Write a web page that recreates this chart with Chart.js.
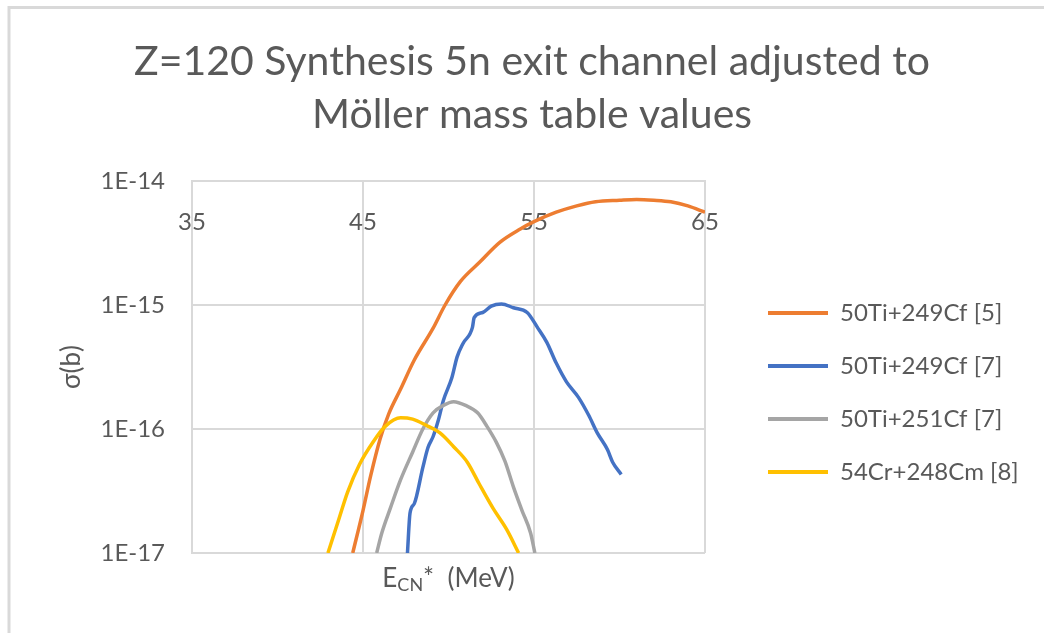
<!DOCTYPE html>
<html>
<head>
<meta charset="utf-8">
<title>Z=120 Synthesis 5n exit channel</title>
<script src="https://cdn.jsdelivr.net/npm/chart.js@4.4.1/dist/chart.umd.min.js"></script>
<style>
  html, body { margin: 0; padding: 0; background: #fff; }
</style>
</head>
<body>
<canvas id="chart" width="1044" height="633"></canvas>
<script>
// values (E in MeV, sigma in barn)
const seriesLabels = ['50Ti+249Cf [5]', '50Ti+249Cf [7]', '50Ti+251Cf [7]', '54Cr+248Cm [8]'];
const seriesColors = ['#ED7D31', '#4472C4', '#A5A5A5', '#FFC000'];

const ti249Cf5E = [44.4, 45.0, 45.45, 46.0, 46.5, 47.2, 48.0, 49.1, 49.8, 50.7, 51.8, 53.0, 54.2,
                   55.0, 56.3, 57.5, 58.6, 60.0, 61.0, 62.0, 63.0, 64.0, 65.0];
const ti249Cf5Sigma = [1.0e-17, 2.2e-17, 4.2e-17, 8.3e-17, 1.32e-16, 2.1e-16, 3.6e-16, 6.5e-16, 1.0e-15, 1.55e-15, 2.2e-15, 3.2e-15, 4.1e-15,
                       4.7e-15, 5.6e-15, 6.3e-15, 6.8e-15, 7.0e-15, 7.1e-15, 7.0e-15, 6.8e-15, 6.3e-15, 5.6e-15];

const ti249Cf7E = [47.6, 47.75, 48.0, 48.5, 48.8, 49.1, 49.4, 49.7, 50.2, 50.5, 50.85, 51.4, 51.5, 52.0,
                   52.5, 53.1, 53.8, 54.6, 55.2, 55.75, 56.3, 56.9, 57.6, 58.2, 58.7, 59.3, 59.6, 60.1];
const ti249Cf7Sigma = [1.0e-17, 2.1e-17, 2.5e-17, 4.9e-17, 7.1e-17, 8.7e-17, 1.17e-16, 1.7e-16, 2.6e-16, 3.8e-16, 4.9e-16, 6.6e-16, 7.9e-16, 8.7e-16,
                       9.8e-16, 1.02e-15, 9.5e-16, 8.7e-16, 6.6e-16, 5.0e-16, 3.4e-16, 2.4e-16, 1.8e-16, 1.29e-16, 9.3e-17, 6.8e-17, 5.4e-17, 4.3e-17];

const ti251Cf7E = [45.8, 46.1, 46.6, 47.2, 47.9, 48.5, 49.1, 49.7, 50.3, 51.0, 51.7, 52.25, 52.8, 53.3, 53.8, 54.3, 54.8, 55.05];
const ti251Cf7Sigma = [1.0e-17, 1.45e-17, 2.3e-17, 3.9e-17, 6.5e-17, 1.0e-16, 1.35e-16, 1.55e-16, 1.66e-16, 1.55e-16, 1.35e-16, 1.05e-16,
                       7.8e-17, 5.5e-17, 3.4e-17, 2.2e-17, 1.45e-17, 1.0e-17];

const cr248Cm8E = [42.95, 43.6, 44.1, 44.8, 45.6, 46.3, 47.2, 47.9, 48.7, 49.5, 50.3, 51.1, 51.8, 52.6, 53.4, 54.1];
const cr248Cm8Sigma = [1.0e-17, 1.9e-17, 3.1e-17, 5.2e-17, 7.9e-17, 1.05e-16, 1.23e-16, 1.2e-16, 1.07e-16, 9.3e-17, 7.2e-17,
                       5.4e-17, 3.6e-17, 2.3e-17, 1.55e-17, 1.0e-17];

const xTicks = [35, 45, 55, 65];
const yTicks = [1e-17, 1e-16, 1e-15, 1e-14];

const textColor = '#595959';
const gridColor = '#D9D9D9';
const fontFamily = 'Lato, "Open Sans", sans-serif';

const toPoints = (xs, ys) => xs.map((x, i) => ({x: x, y: ys[i]}));
const seriesX = [ti249Cf5E, ti249Cf7E, ti251Cf7E, cr248Cm8E];
const seriesY = [ti249Cf5Sigma, ti249Cf7Sigma, ti251Cf7Sigma, cr248Cm8Sigma];

const datasets = seriesLabels.map((label, i) => ({
    label: label,
    data: toPoints(seriesX[i], seriesY[i]),
    borderColor: seriesColors[i],
    backgroundColor: seriesColors[i],
    borderWidth: 3.5,
    pointRadius: 0,
    pointHoverRadius: 0,
    pointStyle: 'line',
    pointBorderColor: seriesColors[i],
    pointBorderWidth: 4,
    cubicInterpolationMode: 'monotone',
    showLine: true,
    order: seriesLabels.length - i   // later series drawn on top, like Excel
}));

// white background + frame edge of the original chart box
const frame = {
    id: 'frame',
    beforeDraw(chart) {
        const ctx = chart.ctx;
        ctx.save();
        ctx.fillStyle = '#fff';
        ctx.fillRect(0, 0, chart.width, chart.height);
        ctx.strokeStyle = gridColor;
        ctx.lineWidth = 3;
        ctx.beginPath();
        ctx.moveTo(9, chart.height);
        ctx.lineTo(9, 7.5);
        ctx.lineTo(chart.width, 7.5);
        ctx.stroke();
        ctx.restore();
    }
};

// legend box wider than chart.js allows by default for right legends
const legendWidth = {
    id: 'legendWidth',
    afterInit(chart) {
        const legend = chart.legend;
        const fit = legend.fit.bind(legend);
        legend.fit = () => { fit(); legend.width = 305; };
    }
};

// x axis title with subscript
const xTitle = {
    id: 'xTitle',
    afterDraw(chart) {
        const {ctx, chartArea} = chart;
        const big = '26px ' + fontFamily, small = '18px ' + fontFamily;
        const rest = '*  (MeV)';
        ctx.save();
        ctx.fillStyle = textColor;
        ctx.textBaseline = 'middle';
        ctx.textAlign = 'left';
        ctx.font = big;
        const wE = ctx.measureText('E').width;
        const wRest = ctx.measureText(rest).width;
        ctx.font = small;
        const wCN = ctx.measureText('CN').width;
        let x = (chartArea.left + chartArea.right) / 2 - (wE + wCN + wRest) / 2;
        const y = chartArea.bottom + 26;
        ctx.font = big;
        ctx.fillText('E', x, y);
        x += wE;
        ctx.font = small;
        ctx.fillText('CN', x, y + 6);
        x += wCN;
        ctx.font = big;
        ctx.fillText(rest, x, y);
        ctx.restore();
    }
};

const ctx = document.getElementById('chart');
const myChart = new Chart(ctx, {
    type: 'scatter',
    data: { datasets: datasets },
    plugins: [frame, legendWidth, xTitle],
    options: {
        responsive: false,
        animation: false,
        layout: { padding: { left: 20, right: 0, top: 0, bottom: 80 } },
        scales: {
            x: {
                type: 'linear',
                position: 'top',
                min: 35,
                max: 65,
                afterBuildTicks: s => { s.ticks = xTicks.map(v => ({value: v})); },
                afterFit: s => { s.height = 0; },
                grid: { color: gridColor, lineWidth: 2, drawTicks: false },
                border: { color: gridColor, width: 2 },
                ticks: { mirror: true, padding: 27, color: textColor, font: { family: fontFamily, size: 24 } }
            },
            y: {
                type: 'logarithmic',
                position: 'left',
                min: 1e-17,
                max: 1e-14,
                afterBuildTicks: s => { s.ticks = yTicks.map(v => ({value: v})); },
                afterFit: s => { s.width = 172; },
                grid: { color: gridColor, lineWidth: 2, drawTicks: false },
                border: { color: gridColor, width: 2 },
                ticks: {
                    padding: 27,
                    color: textColor,
                    font: { family: fontFamily, size: 24 },
                    callback: v => '1E' + Math.round(Math.log10(v))
                },
                title: {
                    display: true,
                    text: 'σ(b)',
                    color: textColor,
                    font: { family: fontFamily, size: 26 },
                    padding: { top: 36, bottom: 0 }
                }
            },
            spacer: {
                type: 'linear',
                position: 'right',
                display: true,
                afterFit: s => { s.width = 34; },
                grid: { display: false },
                border: { display: false },
                ticks: { display: false }
            }
        },
        plugins: {
            title: {
                display: true,
                text: ['Z=120 Synthesis 5n exit channel adjusted to', 'Möller mass table values'],
                color: textColor,
                font: { family: fontFamily, size: 41, weight: 'normal', lineHeight: 53 / 41 },
                padding: { top: 35, bottom: 40 }
            },
            legend: {
                position: 'right',
                fullSize: false,
                align: 'center',
                title: { display: true, text: ' ', font: { size: 10 }, padding: { top: 0, bottom: 39 } },
                labels: {
                    usePointStyle: true,
                    pointStyleWidth: 60,
                    padding: 29,
                    color: textColor,
                    font: { family: fontFamily, size: 24 },
                    sort: (a, b) => a.datasetIndex - b.datasetIndex
                }
            },
            tooltip: { enabled: false }
        }
    }
});
</script>
</body>
</html>
